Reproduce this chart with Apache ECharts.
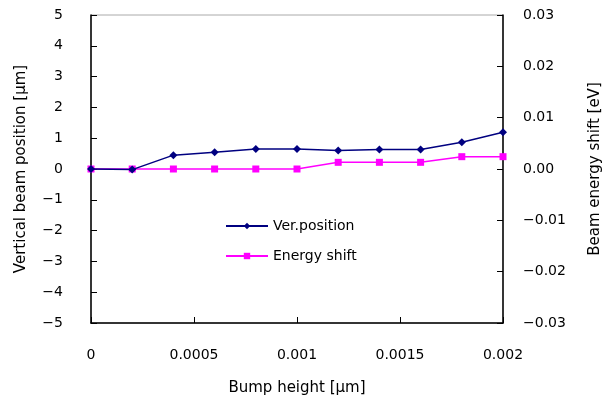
<!DOCTYPE html>
<html>
<head>
<meta charset="utf-8">
<script src="https://cdn.jsdelivr.net/npm/echarts@6/dist/echarts.min.js"></script>
<style>html,body{margin:0;padding:0;background:#fff}#c{width:602px;height:404px}</style>
</head>
<body>
<div id="c"></div>
<script>
const bumpHeight = [0, 0.0002, 0.0004, 0.0006, 0.0008, 0.001, 0.0012, 0.0014, 0.0016, 0.0018, 0.002];
const verPosition = [0, -0.02, 0.45, 0.54, 0.65, 0.65, 0.6, 0.63, 0.63, 0.87, 1.19];
const energyShift = [0, 0, 0, 0, 0, 0, 0.0013, 0.0013, 0.0013, 0.0024, 0.0024];
const xTicks = ['0', '0.0005', '0.001', '0.0015', '0.002'];
const seriesNames = ['Ver.position', 'Energy shift'];

const font = 'DejaVu Sans';
const chart = echarts.init(document.getElementById('c'), null, {renderer: 'canvas'});
const minus = s => String(s).replace('-', '\u2212');
chart.setOption({
  animation: false,
  textStyle: {fontFamily: font},
  grid: {left: 91, right: 99, top: 15, bottom: 81, containLabel: false, outerBoundsMode: 'none',
    show: true, borderColor: '#aaaaaa', borderWidth: 1},
  legend: {
    data: seriesNames, orient: 'vertical', left: 220, top: 214, itemWidth: 42, itemHeight: 8, itemGap: 16,
    textStyle: {fontFamily: font, fontSize: 14, color: '#000'}
  },
  xAxis: {
    type: 'value', min: 0, max: 0.002, interval: 0.0005,
    name: 'Bump height [μm]', nameLocation: 'middle', nameGap: 58,
    nameTextStyle: {fontFamily: font, fontSize: 15, color: '#000'},
    axisLine: {show: true, onZero: false, lineStyle: {color: '#000', width: 1.5}},
    axisTick: {show: true, inside: true, length: 6, lineStyle: {color: '#000'}},
    axisLabel: {margin: 25, fontSize: 14, color: '#000', formatter: (v) => {
      const i = Math.round(v / 0.0005); return xTicks[i] !== undefined ? xTicks[i] : '';
    }},
    splitLine: {show: false}
  },
  yAxis: [{
    type: 'value', min: -5, max: 5, interval: 1, position: 'left',
    name: 'Vertical beam position [μm]', nameLocation: 'middle', nameGap: 62, nameRotate: 90,
    nameTextStyle: {fontFamily: font, fontSize: 15, color: '#000'},
    axisLine: {show: true, onZero: false, lineStyle: {color: '#000', width: 1.5}},
    axisTick: {show: true, inside: true, length: 6, lineStyle: {color: '#000'}},
    axisLabel: {margin: 28, fontSize: 14, color: '#000', formatter: v => minus(v)},
    splitLine: {show: false}
  }, {
    type: 'value', min: -0.03, max: 0.03, interval: 0.01, position: 'right',
    name: 'Beam energy shift [eV]', nameLocation: 'middle', nameGap: 85, nameRotate: 90,
    nameTextStyle: {fontFamily: font, fontSize: 15, color: '#000'},
    axisLine: {show: true, onZero: false, lineStyle: {color: '#000', width: 1.5}},
    axisTick: {show: true, inside: true, length: 6, lineStyle: {color: '#000'}},
    axisLabel: {margin: 20, fontSize: 14, color: '#000', formatter: v => minus(v.toFixed(2))},
    splitLine: {show: false}
  }],
  series: [{
    name: seriesNames[0], type: 'line', yAxisIndex: 0,
    data: bumpHeight.map((x, i) => [x, verPosition[i]]),
    symbol: 'diamond', symbolSize: 8,
    lineStyle: {color: '#000080', width: 1.5}, itemStyle: {color: '#000080'}, z: 3
  }, {
    name: seriesNames[1], type: 'line', yAxisIndex: 1,
    data: bumpHeight.map((x, i) => [x, energyShift[i]]),
    symbol: 'rect', symbolSize: 7,
    lineStyle: {color: '#ff00ff', width: 1.5}, itemStyle: {color: '#ff00ff'}, z: 2
  }]
});
</script>
</body>
</html>
